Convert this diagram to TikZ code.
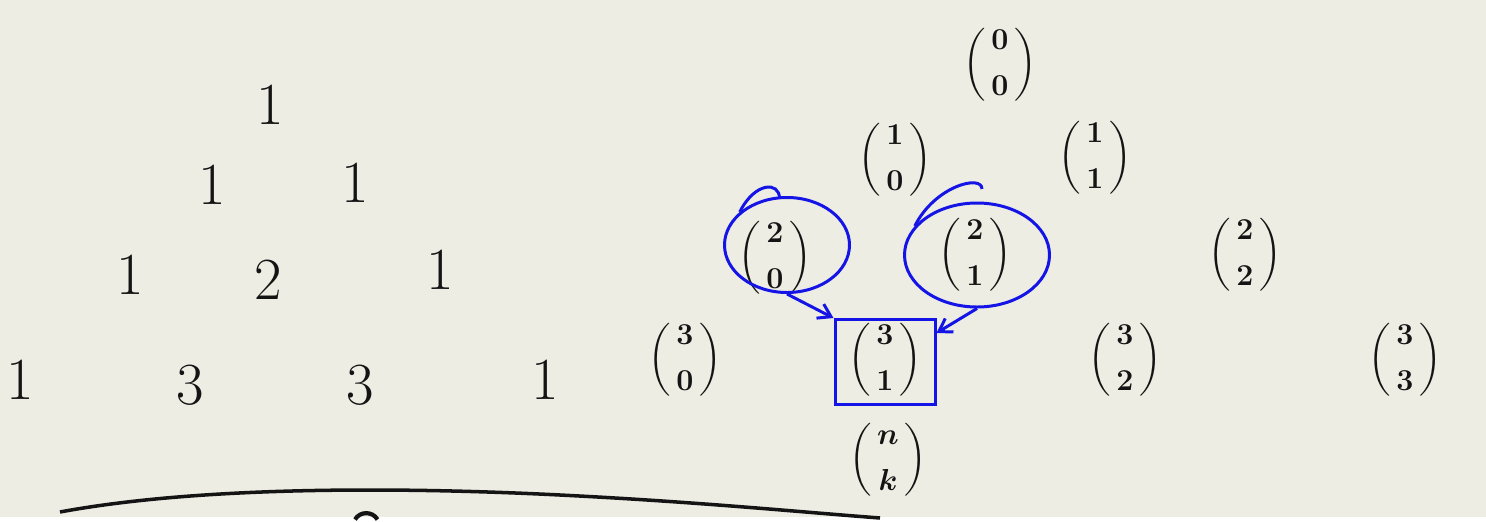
\documentclass[tikz,border=0pt]{standalone}
\usepackage{amsmath}
\usetikzlibrary{arrows.meta,positioning,shapes.geometric}
\definecolor{papel}{HTML}{EDEDE3}
\definecolor{tinta}{HTML}{141414}
\definecolor{boli}{HTML}{1414E6}
\tikzset{
 num/.style={text=tinta,font=\fontsize{34}{38}\selectfont,inner sep=1pt},
 bin/.style={text=tinta,font=\fontsize{19}{23}\selectfont\boldmath,inner sep=1pt},
 marca/.style={draw=boli,line width=1.7pt},
 flecha/.style={boli,line width=1.7pt,-{Straight Barb[length=7pt,width=9pt]}},
}
\newcommand{\bn}[2]{$\dbinom{\,#1\,}{\,#2\,}$}
\begin{document}
\begin{tikzpicture}

\fill[papel] (0,0) rectangle (29.72,10.34);
% triangulo de Pascal
\node[num] (a00) at (5.40,8.24) {1};
\node[num] (a10) at (4.24,6.64) {1};
\node[num] (a11) at (7.10,6.68) {1};
\node[num] (a20) at (2.60,4.84) {1};
\node[num] (a21) at (5.36,4.74) {2};
\node[num] (a22) at (8.80,4.94) {1};
\node[num] (a30) at (0.40,2.74) {1};
\node[num] (a31) at (3.80,2.64) {3};
\node[num] (a32) at (7.20,2.64) {3};
\node[num] (a33) at (10.90,2.74) {1};
% coeficientes binomiales
\node[bin] (b00) at (20.0,9.04) {\bn{0}{0}};
\node[bin] (b10) at (17.9,7.14) {\bn{1}{0}};
\node[bin] (b11) at (21.9,7.18) {\bn{1}{1}};
\node[bin] (b20) at (15.5,5.18) {\bn{2}{0}};
\node[bin] (b21) at (19.5,5.24) {\bn{2}{1}};
\node[bin] (b22) at (24.9,5.24) {\bn{2}{2}};
\node[bin] (b30) at (13.7,3.14) {\bn{3}{0}};
\node[bin] (b31) at (17.7,3.14) {\bn{3}{1}};
\node[bin] (b32) at (22.5,3.14) {\bn{3}{2}};
\node[bin] (b33) at (28.1,3.14) {\bn{3}{3}};
\node[bin] (bnk) at (17.76,1.14) {\bn{n}{k}};
% marcas azules
\node[marca,ellipse,minimum width=2.5cm,minimum height=1.9cm] (e20) at (15.74,5.44) {};
\node[marca,ellipse,minimum width=2.9cm,minimum height=2.08cm] (e21) at (19.54,5.24) {};
\node[marca,rectangle,minimum width=2.0cm,minimum height=1.7cm] (sq) at (17.7,3.10) {};
\draw[marca] (e20.145) .. controls +(0.3,0.6) and +(0,0.35) .. ([xshift=-0.15cm,yshift=-0.05cm]e20.north);
\draw[marca] (e21.155) .. controls +(0.4,0.8) and +(0,0.3) .. ([xshift=0.1cm,yshift=0.25cm]e21.north);
\draw[flecha] (e20.south) -- (sq.north west);
\draw[flecha] (e21.south) -- ([yshift=-0.3cm]sq.north east);
% linea de abajo
\draw[tinta,line width=2pt] (1.2,0.1) .. controls (4,0.62) and (8,0.6) .. (11.2,0.44) .. controls (14,0.3) and (16,0.1) .. (17.6,-0.02);
\draw[tinta,line width=2.4pt] (7.1,-0.05) .. controls (7.2,0.12) and (7.45,0.12) .. (7.55,-0.05);

\end{tikzpicture}
\end{document}
